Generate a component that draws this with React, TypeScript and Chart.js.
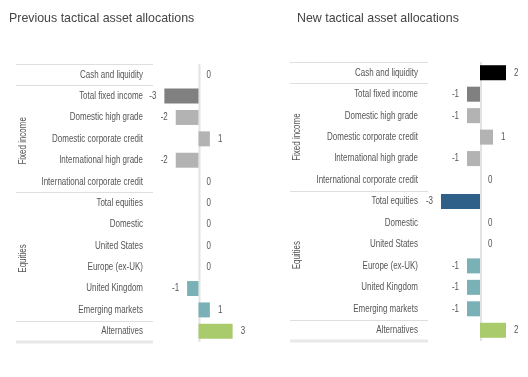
import React, { useEffect, useRef } from 'react';
import { Chart, registerables } from 'chart.js';

Chart.register(...registerables);

const categories = [
  'Cash and liquidity',
  'Total fixed income',
  'Domestic high grade',
  'Domestic corporate credit',
  'International high grade',
  'International corporate credit',
  'Total equities',
  'Domestic',
  'United States',
  'Europe (ex-UK)',
  'United Kingdom',
  'Emerging markets',
  'Alternatives',
];

const previousValues = [0, -3, -2, 1, -2, 0, 0, 0, 0, 0, -1, 1, 3];
const newValues = [2, -1, -1, 1, -1, 0, -3, 0, 0, -1, -1, -1, 2];

const barColors = [
  '#000000',
  '#808080',
  '#b3b3b3',
  '#b3b3b3',
  '#b3b3b3',
  '#b3b3b3',
  '#2e6089',
  '#7ab1b7',
  '#7ab1b7',
  '#7ab1b7',
  '#7ab1b7',
  '#7ab1b7',
  '#a9cb6c',
];

const groupLabels = ['Fixed income', 'Equities'];
const groupFrom = [1, 6];
const groupTo = [5, 11];
const separatorsAfter = [0, 5, 11];

const titles = ['Previous tactical asset allocations', 'New tactical asset allocations'];

const FONT = "10.5px 'Liberation Sans', Arial, sans-serif";
const SX = 0.76;
const TEXT = '#555555';

type Panel = {
  left: number;
  axisWidth: number;
  lineStart: number;
  padTop: number;
  padBottom: number;
  padRight: number;
  max: number;
  groupShift: number;
};

const panels: Panel[] = [
  { left: 0, axisWidth: 153, lineStart: 16, padTop: 64, padBottom: 35, padRight: 20, max: 4, groupShift: 2 },
  { left: 264, axisWidth: 164, lineStart: 26, padTop: 62, padBottom: 36, padRight: 9, max: 3, groupShift: 0 },
];

function narrowText(ctx: CanvasRenderingContext2D, text: string, x: number, y: number, align: CanvasTextAlign, rotate = false) {
  ctx.save();
  ctx.translate(x, y);
  if (rotate) ctx.rotate(-Math.PI / 2);
  ctx.scale(SX, 1);
  ctx.font = FONT;
  ctx.fillStyle = TEXT;
  ctx.textAlign = align;
  ctx.textBaseline = 'middle';
  ctx.fillText(text, 0, 0);
  ctx.restore();
}

function makeDecor(p: Panel) {
  return {
    id: 'decor',
    beforeDatasetsDraw(chart: any) {
      const { ctx, chartArea } = chart;
      const x0 = chart.scales.x.getPixelForValue(0);
      ctx.save();
      ctx.strokeStyle = '#e3e3e3';
      ctx.lineWidth = 2;
      ctx.beginPath();
      ctx.moveTo(x0 + 1, chartArea.top);
      ctx.lineTo(x0 + 1, chartArea.bottom);
      ctx.stroke();
      ctx.restore();
    },
    afterDatasetsDraw(chart: any) {
      const { ctx, chartArea } = chart;
      const yScale = chart.scales.y;
      const meta = chart.getDatasetMeta(0);
      const values = chart.data.datasets[0].data as number[];
      const labels = chart.data.labels as string[];
      ctx.save();
      // category labels
      labels.forEach((lab, i) => {
        narrowText(ctx, lab, chartArea.left - 10, yScale.getPixelForValue(i), 'right');
      });
      // value labels
      meta.data.forEach((bar: any, i: number) => {
        const v = values[i];
        if (v < 0) narrowText(ctx, String(v), bar.x - 8, bar.y, 'right');
        else narrowText(ctx, String(v), bar.x + 8, bar.y, 'left');
      });
      // horizontal separators
      const xEnd = chartArea.left;
      const hline = (y: number, w: number, c: string) => {
        ctx.strokeStyle = c;
        ctx.lineWidth = w;
        ctx.beginPath();
        ctx.moveTo(p.lineStart, y);
        ctx.lineTo(xEnd, y);
        ctx.stroke();
      };
      hline(Math.round(chartArea.top) + 0.5, 1, '#dedede');
      separatorsAfter.forEach((i) => {
        const y = (yScale.getPixelForValue(i) + yScale.getPixelForValue(i + 1)) / 2;
        hline(Math.round(y) + 0.5, 1, '#dedede');
      });
      hline(Math.round(chartArea.bottom), 3, '#e8e8e8');
      // group labels
      groupLabels.forEach((g, k) => {
        const yc = (yScale.getPixelForValue(groupFrom[k]) + yScale.getPixelForValue(groupTo[k])) / 2 + p.groupShift;
        narrowText(ctx, g, p.lineStart + 7.5, yc, 'center', true);
      });
      ctx.restore();
    },
  };
}

function PanelChart({ p, values }: { p: Panel; values: number[] }) {
  const ref = useRef<HTMLCanvasElement>(null);
  useEffect(() => {
    if (!ref.current) return;
    const chart = new Chart(ref.current, {
      type: 'bar',
      data: {
        labels: categories,
        datasets: [
          {
            data: values,
            backgroundColor: barColors,
            barPercentage: 0.7,
            categoryPercentage: 1,
            borderWidth: 0,
          },
        ],
      },
      options: {
        indexAxis: 'y',
        animation: false,
        responsive: false,
        maintainAspectRatio: false,
        devicePixelRatio: 1,
        layout: { padding: { left: 0, right: p.padRight, top: p.padTop, bottom: p.padBottom } },
        plugins: {
          legend: { display: false },
          tooltip: { enabled: false },
          title: { display: false },
        },
        scales: {
          x: { display: false, min: -4, max: p.max },
          y: {
            position: 'left',
            grid: { display: false, drawTicks: false },
            border: { display: false },
            ticks: { display: false },
            afterFit: (s: any) => {
              s.width = p.axisWidth;
            },
          },
        },
      },
      plugins: [makeDecor(p) as any],
    });
    return () => chart.destroy();
  }, []);
  return (
    <canvas
      ref={ref}
      width={264}
      height={377}
      style={{ position: 'absolute', left: p.left, top: 0, width: 264, height: 377, display: 'block' }}
    />
  );
}

export default function App() {
  return (
    <div style={{ position: 'absolute', left: 0, top: 0, width: 528, height: 377, background: '#ffffff', overflow: 'hidden' }}>
      <PanelChart p={panels[0]} values={previousValues} />
      <PanelChart p={panels[1]} values={newValues} />
      {titles.map((t, i) => (
        <div
          key={t}
          style={{
            position: 'absolute',
            left: i === 0 ? 9 : 297,
            top: 10,
            fontFamily: "'Liberation Sans', Arial, sans-serif",
            fontSize: 12.4,
            lineHeight: '16px',
            color: '#444444',
            whiteSpace: 'nowrap',
          }}
        >
          {t}
        </div>
      ))}
    </div>
  );
}
